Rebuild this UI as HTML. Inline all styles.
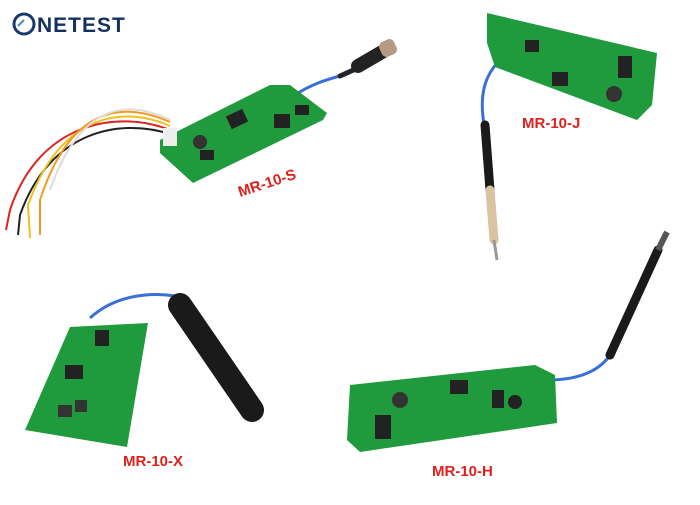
<!DOCTYPE html>
<html><head><style>
body{margin:0;width:700px;height:500px;background:#fff;overflow:hidden;font-family:"Liberation Sans",sans-serif}
</style></head><body>
<svg width="700" height="500" viewBox="0 0 700 500" xmlns="http://www.w3.org/2000/svg">
<!-- logo -->
<circle cx="24" cy="24" r="10" fill="none" stroke="#1a3a6e" stroke-width="3"/>
<path d="M18 26 L24 20" stroke="#3a8fd0" stroke-width="2"/>
<text x="37" y="32" font-size="21" font-weight="bold" fill="#14305e" letter-spacing="1">NETEST</text>

<!-- MR-10-S wires -->
<g fill="none" stroke-width="2">
<path d="M170 130 C120 110 40 120 10 210 L6 230" stroke="#d22"/>
<path d="M170 134 C120 118 50 130 20 215 L18 235" stroke="#222"/>
<path d="M170 126 C120 104 60 116 28 205 L30 238" stroke="#f0c020"/>
<path d="M170 122 C120 100 70 108 40 200 L40 235" stroke="#f29a20"/>
<path d="M170 120 C125 98 80 105 50 190" stroke="#ddd"/>
</g>
<path d="M295 95 C310 85 325 80 340 76" stroke="#3a6fd8" stroke-width="3" fill="none"/>
<path d="M340 76 L358 68" stroke="#222" stroke-width="5" stroke-linecap="round"/>
<path d="M358 66 L382 52" stroke="#222" stroke-width="14" stroke-linecap="round"/>
<rect x="380" y="40" width="16" height="16" rx="5" fill="#b89a84" transform="rotate(-25 388 48)"/>
<polygon points="160,140 270,85 290,85 327,113 323,120 193,183 160,153" fill="#1f9a3c"/>
<rect x="228" y="112" width="18" height="14" fill="#222" transform="rotate(-25 237 119)"/>
<rect x="274" y="114" width="16" height="14" fill="#222"/>
<rect x="295" y="105" width="14" height="10" fill="#222"/>
<circle cx="200" cy="142" r="7" fill="#333"/>
<rect x="200" y="150" width="14" height="10" fill="#222"/>
<rect x="163" y="128" width="14" height="18" fill="#eee"/>
<text x="240" y="197" font-size="15" font-weight="bold" fill="#e0201c" transform="rotate(-18 240 197)">MR-10-S</text>

<!-- MR-10-J -->
<path d="M500 60 C485 75 478 95 485 130" stroke="#3a6fd8" stroke-width="3" fill="none"/>
<path d="M485 125 L490 190" stroke="#1a1a1a" stroke-width="9" stroke-linecap="round"/>
<path d="M490 190 L494 240" stroke="#d9c3a0" stroke-width="9" stroke-linecap="round"/>
<path d="M494 240 L497 260" stroke="#999" stroke-width="3"/>
<polygon points="487,13 657,53 652,105 637,120 495,67 487,43" fill="#1f9a3c"/>
<rect x="552" y="72" width="16" height="14" fill="#222"/>
<circle cx="614" cy="94" r="8" fill="#333"/>
<rect x="618" y="56" width="14" height="22" fill="#222"/>
<rect x="525" y="40" width="14" height="12" fill="#222"/>
<text x="522" y="128" font-size="15" font-weight="bold" fill="#e0201c">MR-10-J</text>

<!-- MR-10-X -->
<path d="M90 318 C115 295 150 292 175 296" stroke="#3a6fd8" stroke-width="3" fill="none"/>
<path d="M180 305 L252 410" stroke="#1a1a1a" stroke-width="24" stroke-linecap="round"/>
<polygon points="70,327 148,323 127,447 25,430" fill="#1f9a3c"/>
<rect x="65" y="365" width="18" height="14" fill="#222"/>
<rect x="95" y="330" width="14" height="16" fill="#222"/>
<rect x="58" y="405" width="14" height="12" fill="#333"/>
<rect x="75" y="400" width="12" height="12" fill="#333"/>
<text x="123" y="466" font-size="15" font-weight="bold" fill="#e0201c">MR-10-X</text>

<!-- MR-10-H -->
<path d="M548 380 C580 380 600 370 610 355" stroke="#3a6fd8" stroke-width="3" fill="none"/>
<path d="M610 355 L658 250" stroke="#1a1a1a" stroke-width="9" stroke-linecap="round"/>
<path d="M658 250 L667 232" stroke="#555" stroke-width="6"/>
<polygon points="350,385 535,365 555,375 557,423 360,452 347,440" fill="#1f9a3c"/>
<rect x="450" y="380" width="18" height="14" fill="#222"/>
<circle cx="400" cy="400" r="8" fill="#333"/>
<rect x="492" y="390" width="12" height="18" fill="#222"/>
<circle cx="515" cy="402" r="7" fill="#222"/>
<rect x="375" y="415" width="16" height="24" fill="#222"/>
<text x="432" y="476" font-size="15" font-weight="bold" fill="#e0201c">MR-10-H</text>
</svg>
</body></html>
